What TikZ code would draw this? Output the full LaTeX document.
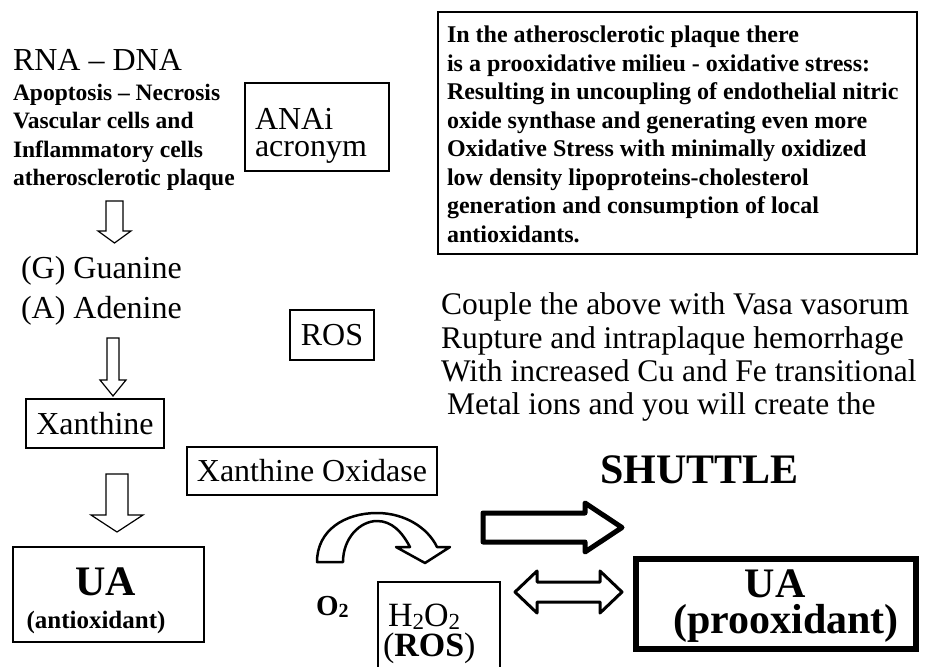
\documentclass[tikz,border=0pt]{standalone}
\usepackage{fontspec}
\setmainfont{Liberation Serif}
\usepackage{tikz}

\begin{document}
\begin{tikzpicture}[x=1pt, y=-1pt,
  every node/.style={inner sep=0pt, outer sep=0pt},
  plain/.style={font=\fontsize{32}{27}\selectfont, anchor=base west},
  bigbold/.style={font=\fontsize{42}{42}\selectfont\bfseries, anchor=base},
  smallbold/.style={font=\fontsize{24}{28.5}\selectfont\bfseries, align=left, anchor=north west},
  box/.style={draw, line width=1.2pt, rectangle},
  hollow/.style={draw, line width=1.2pt, fill=white, line join=miter}]
\useasboundingbox (0,0) rectangle (925,666);

% left column
\node[plain] (rna) at (13,71) {RNA -- DNA};
\node[smallbold, font=\fontsize{23.5}{28.5}\selectfont\bfseries] (cells) at (13,84) {Apoptosis -- Necrosis\\Vascular cells and\\Inflammatory cells\\atherosclerotic plaque};
\node[box, minimum width=144, minimum height=88] (anai) at (317,127) {};
\node[plain, align=left, anchor=north west] (anaitxt) at (255,108) {ANAi\\acronym};

\draw[hollow] (106,201) -- (123,201) -- (123,231) -- (131,231) -- (114.5,243) -- (98,231) -- (106,231) -- cycle;

\node[plain] (gua) at (21,278) {(G) Guanine};
\node[plain] (ade) at (21,318) {(A) Adenine};

\draw[hollow] (107,338) -- (119,338) -- (119,380) -- (126,380) -- (113,396) -- (100,380) -- (107,380) -- cycle;

\node[box, minimum width=138, minimum height=49] (xan) at (95,423.5) {\fontsize{32}{34}\selectfont Xanthine};

\draw[hollow] (106,474) -- (128,474) -- (128,515) -- (143,515) -- (117,532) -- (91,515) -- (106,515) -- cycle;

% UA antioxidant
\node[box, minimum width=191, minimum height=95] (uaL) at (108.5,594.5) {};
\node[bigbold] (uaLtxt) at (106,595) {UA};
\node[font=\fontsize{25}{25}\selectfont\bfseries, anchor=base] (antiox) at (96,628) {(antioxidant)};

% middle
\node[box, minimum width=84, minimum height=50] (ros) at (332,335) {\fontsize{32}{34}\selectfont ROS};
\node[box, minimum width=250, minimum height=48] (xo) at (312,471) {\fontsize{32}{34}\selectfont Xanthine Oxidase};

\draw[line width=2.5pt, fill=white, line join=round] (317,562) .. controls (317,530) and (345,513) .. (377,513)
  .. controls (405,513) and (428,528) .. (437,547) -- (450,547) -- (425,563) -- (396,547) -- (410,547)
  .. controls (402,532) and (392,521) .. (377,521) .. controls (360,521) and (343,538) .. (343,562) -- cycle;

\node[font=\fontsize{29}{29}\selectfont\bfseries, anchor=base west] (o2) at (316,615) {O\raisebox{-2pt}{\fontsize{20}{20}\selectfont 2}};
\node[box, minimum width=122, minimum height=92, anchor=north west] (h2o2) at (378,582) {};
\node[font=\fontsize{34}{34}\selectfont, anchor=base west] (h2o2txt) at (388,626) {H\raisebox{-3pt}{\fontsize{23}{23}\selectfont 2}O\raisebox{-3pt}{\fontsize{23}{23}\selectfont 2}};
\node[font=\fontsize{34}{34}\selectfont, anchor=base west] (rostxt) at (383,656) {(\textbf{ROS})};

% right side
\node[box, minimum width=479, minimum height=242, anchor=north west] (stressbox) at (438,12) {};
\node[smallbold] (stress) at (447,26) {In the atherosclerotic plaque there\\is a prooxidative milieu - oxidative stress:\\Resulting in uncoupling of endothelial nitric\\oxide synthase and generating even more\\Oxidative Stress with minimally oxidized\\low density lipoproteins-cholesterol\\generation and consumption of local\\antioxidants.};

\node[plain, align=left, anchor=north west, font=\fontsize{31.5}{33.3}\selectfont] (couple) at (441,293) {Couple the above with Vasa vasorum\\Rupture and intraplaque hemorrhage\\With increased Cu and Fe transitional\\\hspace*{6pt}Metal ions and you will create the};

\node[font=\fontsize{42}{42}\selectfont\bfseries, anchor=base west] (shuttle) at (600,483) {SHUTTLE};

\draw[line width=5pt, line join=round] (483,513) -- (585,513) -- (585,503) -- (622,527.5) -- (585,552) -- (585,542) -- (483,542) -- cycle;
\draw[line width=3pt, line join=round] (515,592) -- (537,571) -- (537,582) -- (600,582) -- (600,571) -- (622,592)
  -- (600,613) -- (600,602) -- (537,602) -- (537,613) -- cycle;

% UA prooxidant
\node[draw, line width=6pt, minimum width=280, minimum height=90] (uaR) at (776,604) {};
\node[bigbold] (uaRtxt) at (775,597) {UA};
\node[bigbold] (proox) at (786,633) {(prooxidant)};
\end{tikzpicture}
\end{document}
